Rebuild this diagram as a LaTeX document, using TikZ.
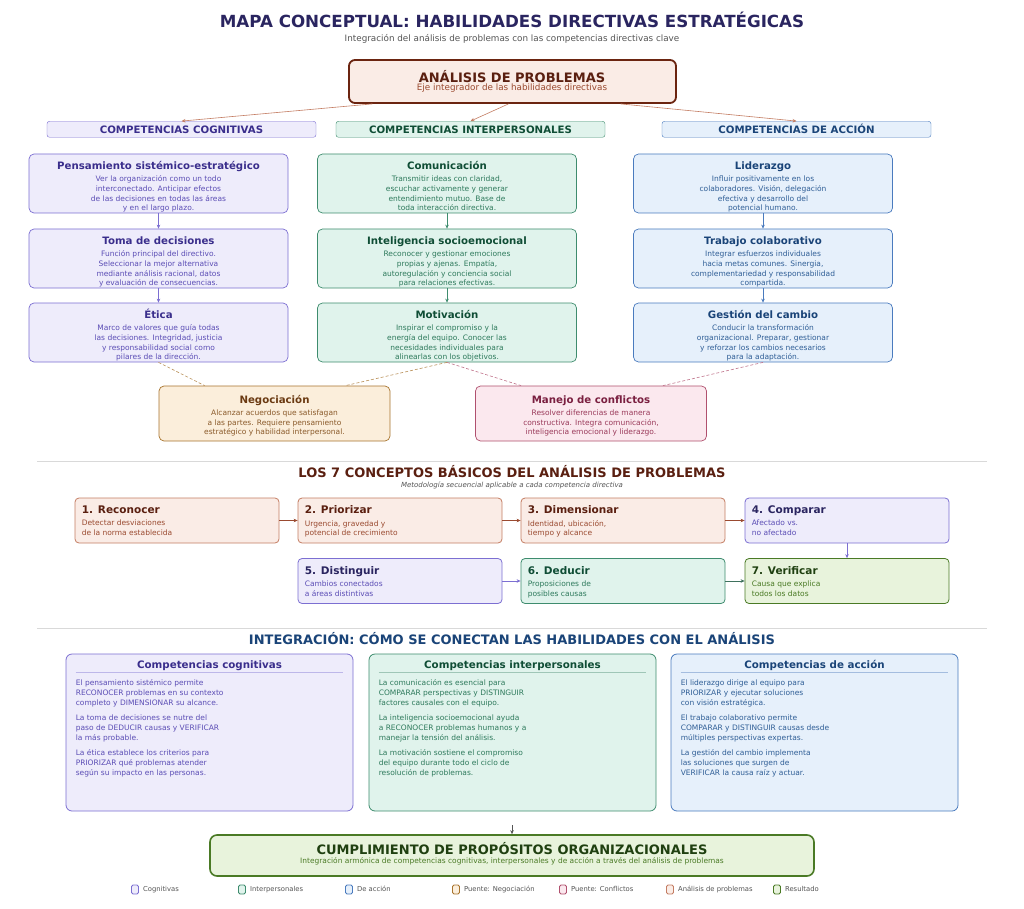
\documentclass[tikz,border=0pt]{standalone}
\usepackage{fontspec}
\setmainfont{DejaVu Sans}
\usepackage{pgf,tikz,xcolor}
\usetikzlibrary{calc,positioning,arrows.meta}

\definecolor{navy}{HTML}{2A2560}
\definecolor{gristxt}{HTML}{555555}
\definecolor{cogF}{HTML}{EEECFB}\definecolor{cogL}{HTML}{7C6FD2}\definecolor{cogT}{HTML}{3A2E8C}\definecolor{cogX}{HTML}{5B4DB5}
\definecolor{intF}{HTML}{E0F3EC}\definecolor{intL}{HTML}{3E8C6E}\definecolor{intT}{HTML}{0F4D35}\definecolor{intX}{HTML}{2E7A5C}
\definecolor{accF}{HTML}{E6F0FB}\definecolor{accL}{HTML}{4A7BBE}\definecolor{accT}{HTML}{1A4478}\definecolor{accX}{HTML}{2F5E96}
\definecolor{negF}{HTML}{FBEEDB}\definecolor{negL}{HTML}{A8742E}\definecolor{negT}{HTML}{6B3A12}\definecolor{negX}{HTML}{8A5A2A}
\definecolor{conF}{HTML}{FBE8EE}\definecolor{conL}{HTML}{B0506E}\definecolor{conT}{HTML}{7A1F40}\definecolor{conX}{HTML}{9A3A5A}
\definecolor{anaF}{HTML}{FAECE6}\definecolor{anaL}{HTML}{C47D63}\definecolor{anaT}{HTML}{5A1F10}\definecolor{anaX}{HTML}{9A4A30}\definecolor{anaD}{HTML}{6B2410}
\definecolor{resF}{HTML}{E8F3DC}\definecolor{resL}{HTML}{4A7A25}\definecolor{resT}{HTML}{1F4010}\definecolor{resX}{HTML}{4A7A25}
\definecolor{sep}{HTML}{D9D9D9}

\newcommand{\caja}[3]{{\color{#1}\bfseries\fontsize{10.2}{12}\selectfont\vphantom{É}#2}\\[2.3pt]#3}
\newcommand{\paso}[3]{{\color{#1}\bfseries\fontsize{10.5}{12}\selectfont #2}\\[2.5pt]#3}

\tikzset{
  catbox/.style={draw=#1L, fill=#1F, text=#1T, rounded corners=2.5pt, minimum width=269, minimum height=16, inner sep=0pt, font=\bfseries\fontsize{10.2}{11}\selectfont},
  skillbox/.style={draw=#1L, fill=#1F, rounded corners=5pt, minimum width=259, minimum height=59, line width=0.7pt},
  puente/.style={draw=#1L, fill=#1F, rounded corners=5pt, minimum width=231, minimum height=55, line width=0.7pt},
  skilltxt/.style={anchor=north, text=#1X, align=center, inner sep=0pt, font=\fontsize{7.5}{9.7}\selectfont},
  stepbox/.style={draw=#1L, fill=#1F, rounded corners=4pt, minimum width=204, minimum height=45, line width=0.8pt},
  steptxt/.style={anchor=north west, text=#1X, align=left, inner sep=0pt, font=\fontsize{7.5}{9.8}\selectfont},
  intbox/.style={draw=#1L, fill=#1F, rounded corners=6pt, minimum width=287, minimum height=157, line width=0.8pt},
  inttxt/.style={anchor=north west, text=#1X, align=left, inner sep=0pt, font=\fontsize{7.5}{10}\selectfont},
  linea/.style={anchor=base, inner sep=0pt},
  arr/.style={-{Stealth[length=4pt,width=3.5pt]}, line width=0.6pt},
  puentelinea/.style={dashed, dash pattern=on 3pt off 2pt, line width=0.6pt}
}

\begin{document}
\begin{tikzpicture}[x=1pt,y=-1pt]
  \useasboundingbox (0,0) rectangle (1024,909);
  \fill[white] (0,0) rectangle (1024,909);

  \node[linea, text=navy, font=\bfseries\fontsize{16.7}{18}\selectfont] (titulo) at (512,27.8) {MAPA CONCEPTUAL: HABILIDADES DIRECTIVAS ESTRATÉGICAS};
  \node[linea, text=gristxt, font=\fontsize{8.8}{10}\selectfont] (subtitulo) at (512,41.4) {Integración del análisis de problemas con las competencias directivas clave};

  \node[draw=anaD, fill=anaF, line width=1.8pt, rounded corners=6pt, minimum width=327, minimum height=43, inner sep=0pt] (analisis) at (512.5,81.5) {};
  \node[linea, text=anaT, font=\bfseries\fontsize{13}{14}\selectfont] (analisis-tit) at (512,82.7) {ANÁLISIS DE PROBLEMAS};
  \node[linea, text=anaX, font=\fontsize{8.8}{10}\selectfont] (analisis-sub) at (512,91) {Eje integrador de las habilidades directivas};

  \node[catbox=cog] (cog) at (181.5,129.3) {COMPETENCIAS COGNITIVAS};
  \node[catbox=int] (int) at (470.5,129.3) {COMPETENCIAS INTERPERSONALES};
  \node[catbox=acc] (acc) at (796.5,129.3) {COMPETENCIAS DE ACCIÓN};

  \draw[arr, anaL] ($(analisis.south)+(-140,0)$) -- (cog.north);
  \draw[arr, anaL] ($(analisis.south)+(-4,0)$) -- (int.north);
  \draw[arr, anaL] ($(analisis.south)+(108,0)$) -- (acc.north);

  % columnas de competencias
  \node[skillbox=cog] (pensamiento) at (158.5,183.5) {};
  \node[skillbox=cog] (decisiones) at (158.5,258.5) {};
  \node[skillbox=cog] (etica) at (158.5,332.5) {};
  \node[skillbox=int] (comunicacion) at (447,183.5) {};
  \node[skillbox=int] (inteligencia) at (447,258.5) {};
  \node[skillbox=int] (motivacion) at (447,332.5) {};
  \node[skillbox=acc] (liderazgo) at (763,183.5) {};
  \node[skillbox=acc] (trabajo) at (763,258.5) {};
  \node[skillbox=acc] (cambio) at (763,332.5) {};

  \node[skilltxt=cog] (pensamiento-txt) at ($(pensamiento.north)+(0,6.5)$) {\caja{cogT}{Pensamiento sistémico-estratégico}{Ver la organización como un todo\\interconectado. Anticipar efectos\\de las decisiones en todas las áreas\\y en el largo plazo.}};
  \node[skilltxt=cog] (decisiones-txt) at ($(decisiones.north)+(0,6.5)$) {\caja{cogT}{Toma de decisiones}{Función principal del directivo.\\Seleccionar la mejor alternativa\\mediante análisis racional, datos\\y evaluación de consecuencias.}};
  \node[skilltxt=cog] (etica-txt) at ($(etica.north)+(0,6.5)$) {\caja{cogT}{Ética}{Marco de valores que guía todas\\las decisiones. Integridad, justicia\\y responsabilidad social como\\pilares de la dirección.}};
  \node[skilltxt=int] (comunicacion-txt) at ($(comunicacion.north)+(0,6.5)$) {\caja{intT}{Comunicación}{Transmitir ideas con claridad,\\escuchar activamente y generar\\entendimiento mutuo. Base de\\toda interacción directiva.}};
  \node[skilltxt=int] (inteligencia-txt) at ($(inteligencia.north)+(0,6.5)$) {\caja{intT}{Inteligencia socioemocional}{Reconocer y gestionar emociones\\propias y ajenas. Empatía,\\autoregulación y conciencia social\\para relaciones efectivas.}};
  \node[skilltxt=int] (motivacion-txt) at ($(motivacion.north)+(0,6.5)$) {\caja{intT}{Motivación}{Inspirar el compromiso y la\\energía del equipo. Conocer las\\necesidades individuales para\\alinearlas con los objetivos.}};
  \node[skilltxt=acc] (liderazgo-txt) at ($(liderazgo.north)+(0,6.5)$) {\caja{accT}{Liderazgo}{Influir positivamente en los\\colaboradores. Visión, delegación\\efectiva y desarrollo del\\potencial humano.}};
  \node[skilltxt=acc] (trabajo-txt) at ($(trabajo.north)+(0,6.5)$) {\caja{accT}{Trabajo colaborativo}{Integrar esfuerzos individuales\\hacia metas comunes. Sinergia,\\complementariedad y responsabilidad\\compartida.}};
  \node[skilltxt=acc] (cambio-txt) at ($(cambio.north)+(0,6.5)$) {\caja{accT}{Gestión del cambio}{Conducir la transformación\\organizacional. Preparar, gestionar\\y reforzar los cambios necesarios\\para la adaptación.}};

  \draw[arr, cogL] (pensamiento) -- (decisiones);
  \draw[arr, cogL] (decisiones) -- (etica);
  \draw[arr, intL] (comunicacion) -- (inteligencia);
  \draw[arr, intL] (inteligencia) -- (motivacion);
  \draw[arr, accL] (liderazgo) -- (trabajo);
  \draw[arr, accL] (trabajo) -- (cambio);

  \node[puente=neg] (negociacion) at (274.5,413.5) {};
  \node[puente=con] (conflictos) at (591,413.5) {};
  \node[skilltxt=neg] (negociacion-txt) at ($(negociacion.north)+(0,8)$) {\caja{negT}{Negociación}{Alcanzar acuerdos que satisfagan\\a las partes. Requiere pensamiento\\estratégico y habilidad interpersonal.}};
  \node[skilltxt=con] (conflictos-txt) at ($(conflictos.north)+(0,8)$) {\caja{conT}{Manejo de conflictos}{Resolver diferencias de manera\\constructiva. Integra comunicación,\\inteligencia emocional y liderazgo.}};

  \draw[puentelinea, negL!80] (etica.south) -- ($(negociacion.north west)+(46,0)$);
  \draw[puentelinea, negL!80] (motivacion.south) -- ($(negociacion.north east)+(-45,0)$);
  \draw[puentelinea, conL!80] (motivacion.south) -- ($(conflictos.north west)+(46,0)$);
  \draw[puentelinea, conL!80] (cambio.south) -- ($(conflictos.north east)+(-44,0)$);

  \draw[sep, line width=0.8pt] (37,461) -- (987,461);
  \draw[sep, line width=0.8pt] (37,628) -- (987,628);

  % los 7 conceptos
  \node[linea, text=anaT, font=\bfseries\fontsize{13}{14}\selectfont] (titulo7) at (512,477) {LOS 7 CONCEPTOS BÁSICOS DEL ANÁLISIS DE PROBLEMAS};
  \node[linea, text=gristxt, font=\itshape\fontsize{7}{8}\selectfont] (sub7) at (512,487) {Metodología secuencial aplicable a cada competencia directiva};

  \node[stepbox=ana] (p1) at (177,520.5) {};
  \node[stepbox=ana] (p2) at (400,520.5) {};
  \node[stepbox=ana] (p3) at (623,520.5) {};
  \node[stepbox=cog] (p4) at (847,520.5) {};
  \node[stepbox=cog] (p5) at (400,581) {};
  \node[stepbox=int] (p6) at (623,581) {};
  \node[stepbox=res] (p7) at (847,581) {};

  \node[steptxt=ana] (t1) at ($(p1.north west)+(7,8)$) {\paso{anaT}{1. Reconocer}{Detectar desviaciones\\de la norma establecida}};
  \node[steptxt=ana] (t2) at ($(p2.north west)+(7,8)$) {\paso{anaT}{2. Priorizar}{Urgencia, gravedad y\\potencial de crecimiento}};
  \node[steptxt=ana] (t3) at ($(p3.north west)+(7,8)$) {\paso{anaT}{3. Dimensionar}{Identidad, ubicación,\\tiempo y alcance}};
  \node[steptxt=cog] (t4) at ($(p4.north west)+(7,8)$) {\paso{navy}{4. Comparar}{Afectado vs.\\no afectado}};
  \node[steptxt=cog] (t5) at ($(p5.north west)+(7,8)$) {\paso{navy}{5. Distinguir}{Cambios conectados\\a áreas distintivas}};
  \node[steptxt=int] (t6) at ($(p6.north west)+(7,8)$) {\paso{intT}{6. Deducir}{Proposiciones de\\posibles causas}};
  \node[steptxt=res] (t7) at ($(p7.north west)+(7,8)$) {\paso{resT}{7. Verificar}{Causa que explica\\todos los datos}};

  \draw[arr, anaX] (p1) -- (p2);
  \draw[arr, anaX] (p2) -- (p3);
  \draw[arr, anaX] (p3) -- (p4);
  \draw[arr, cogL] (p4) -- (p7);
  \draw[arr, cogL] (p5) -- (p6);
  \draw[arr, intT!80] (p6) -- (p7);

  % integracion
  \node[linea, text=accT, font=\bfseries\fontsize{13}{14}\selectfont] (tituloint) at (512,644.7) {INTEGRACIÓN: CÓMO SE CONECTAN LAS HABILIDADES CON EL ANÁLISIS};

  \node[intbox=cog] (icog) at (209.5,732.5) {};
  \node[intbox=int] (iint) at (512.5,732.5) {};
  \node[intbox=acc] (iacc) at (814.5,732.5) {};

  \foreach \caj/\col/\tit in {icog/cog/Competencias cognitivas, iint/int/Competencias interpersonales, iacc/acc/Competencias de acción}{
    \node[linea, text=\col T, font=\bfseries\fontsize{10.3}{11}\selectfont] (\caj-tit) at ($(\caj.north)+(0,14.5)$) {\tit};
    \draw[\col L!50, line width=0.8pt] ($(\caj.north west)+(10,19)$) -- ($(\caj.north east)+(-10,19)$);
  }

  \node[inttxt=cog] (icog-txt) at ($(icog.north west)+(10,26)$) {El pensamiento sistémico permite\\RECONOCER problemas en su contexto\\completo y DIMENSIONAR su alcance.\\[5pt]La toma de decisiones se nutre del\\paso de DEDUCIR causas y VERIFICAR\\la más probable.\\[5pt]La ética establece los criterios para\\PRIORIZAR qué problemas atender\\según su impacto en las personas.};
  \node[inttxt=int] (iint-txt) at ($(iint.north west)+(10,26)$) {La comunicación es esencial para\\COMPARAR perspectivas y DISTINGUIR\\factores causales con el equipo.\\[5pt]La inteligencia socioemocional ayuda\\a RECONOCER problemas humanos y a\\manejar la tensión del análisis.\\[5pt]La motivación sostiene el compromiso\\del equipo durante todo el ciclo de\\resolución de problemas.};
  \node[inttxt=acc] (iacc-txt) at ($(iacc.north west)+(10,26)$) {El liderazgo dirige al equipo para\\PRIORIZAR y ejecutar soluciones\\con visión estratégica.\\[5pt]El trabajo colaborativo permite\\COMPARAR y DISTINGUIR causas desde\\múltiples perspectivas expertas.\\[5pt]La gestión del cambio implementa\\las soluciones que surgen de\\VERIFICAR la causa raíz y actuar.};

  \node[draw=resL, fill=resF, line width=1.6pt, rounded corners=7pt, minimum width=604, minimum height=41, inner sep=0pt] (resultado) at (512,855.5) {};
  \node[linea, text=resT, font=\bfseries\fontsize{13}{14}\selectfont] (resultado-tit) at (512,854) {CUMPLIMIENTO DE PROPÓSITOS ORGANIZACIONALES};
  \node[linea, text=resX, font=\fontsize{7.45}{9}\selectfont] (resultado-sub) at (512,863.7) {Integración armónica de competencias cognitivas, interpersonales y de acción a través del análisis de problemas};
  \coordinate (origen) at (512,825);
  \draw[arr, gristxt] (origen) -- (resultado.north);

  % leyenda
  \foreach \lx/\lc/\lt in {131/cog/Cognitivas, 238/int/Interpersonales, 345/acc/De acción, 452/neg/Puente: Negociación, 559/con/Puente: Conflictos, 666/ana/Análisis de problemas, 773/res/Resultado}{
    \node[draw=\lc L, fill=\lc F, rounded corners=1.5pt, minimum width=7, minimum height=9, inner sep=0pt, line width=0.8pt] (ley-\lc) at (\lx+4,889.5) {};
    \node[anchor=base west, text=gristxt, font=\fontsize{6.8}{8}\selectfont, inner sep=0pt] (ley-\lc-txt) at ($(ley-\lc.east)+(4,1.8)$) {\lt};
  }
\end{tikzpicture}
\end{document}
